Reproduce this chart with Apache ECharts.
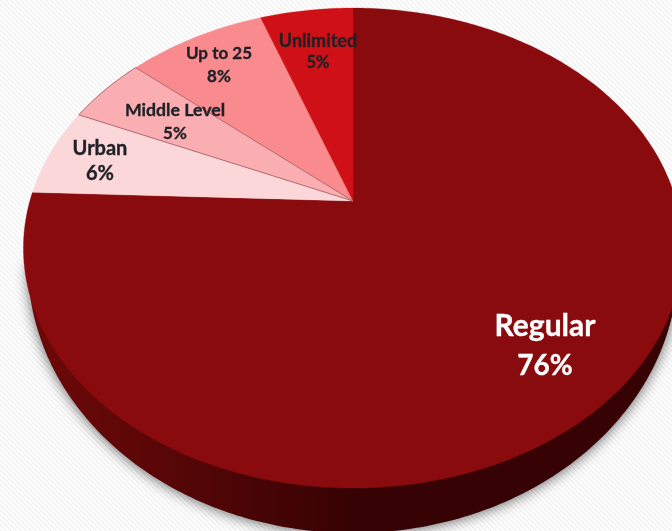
<!DOCTYPE html>
<html><head><meta charset="utf-8">
<style>html,body{margin:0;padding:0;background:#fff}#c{width:672px;height:531px}</style>
<script src="https://cdn.jsdelivr.net/npm/echarts@6/dist/echarts.min.js"></script>
</head><body><div id="c"></div>
<script>
const categories = ['Regular','Urban','Middle Level','Up to 25','Unlimited'];
const values = [75.6,6.0,4.7,8.2,5.5];
const percentLabels = ['76%','6%','5%','8%','5%'];

// layout and style, separate from the data
const sliceColors = ['#8a0b0e','#fcd7da','#fbaeb1','#f98a8e','#cf1016'];
const labelColors = ['#ffffff','#1f2126','#1f2126','#1f2126','#1f2126'];
const nameSizes = [30,20,17.7,17,18];
const percentSizes = [28,20,17,17,16.5];
const labelAnchors = [[545,346],[100,161],[175,122],[219,65],[318,52]];
const labelGaps = [39,25,23,23,22];
const apex = [353,201], A = 323.2, B = 230.8, K = 0.196;
const base = {cx:353, cy:265, rx:325, ry:268};

function project(frac){
  const t = frac*2*Math.PI, X = Math.sin(t), Y = Math.cos(t), w = 1+K*Y;
  return [apex[0]+A*X/w, apex[1]-B*Y/w];
}
function wedge(from,to){
  const pts=[apex.slice()], n=Math.max(4,Math.round((to-from)*400));
  for(let i=0;i<=n;i++) pts.push(project(from+(to-from)*i/n));
  return pts;
}
const total = values.reduce((a,b)=>a+b,0);
let run = 0;
const sliceRows = values.map((v,i)=>{const s=run/total; run+=v; return [s,run/total,i];});
// the small "Middle Level" slice carries the outline, so it goes over its neighbours
const drawOrder = [0,1,3,4,2];

const chart = echarts.init(document.getElementById('c'),null,{renderer:'canvas'});
const tile = document.createElement('canvas'); tile.width=5; tile.height=5;
const tc = tile.getContext('2d'); tc.fillStyle='#ffffff'; tc.fillRect(0,0,5,5); tc.fillStyle='#f1f1f1';
for(let y=0;y<5;y++)for(let x=0;x<5;x++){ if(((x-y)%5+5)%5<2) tc.fillRect(x,y,1,1); }

chart.setOption({
  animation:false,
  backgroundColor:{image:tile,repeat:'repeat'},
  series:[
    {type:'custom',name:'side',coordinateSystem:'none',silent:true,data:[[0]],
     renderItem(){
       const pts=[];
       for(let i=0;i<=180;i++){const t=i/180*Math.PI;pts.push([base.cx+base.rx*Math.cos(t),base.cy+base.ry*Math.sin(t)]);}
       return {type:'polygon',shape:{points:pts},style:{
         fill:new echarts.graphic.LinearGradient(0,0,1,0,[
           {offset:0,color:'#6e0808'},{offset:0.16,color:'#5e0707'},{offset:0.3,color:'#4e0506'},
           {offset:0.5,color:'#370203'},{offset:1,color:'#360203'}]),
         shadowBlur:14,shadowColor:'rgba(0,0,0,0.6)',shadowOffsetX:0,shadowOffsetY:1}};
     }},
    {type:'custom',name:'slices',coordinateSystem:'none',silent:true,
     data:drawOrder.map(i=>sliceRows[i]),
     renderItem(p,api){
       const i=api.value(2);
       const outlined=i===2;
       return {type:'polygon',shape:{points:wedge(api.value(0),api.value(1))},
         style:{fill:sliceColors[i],stroke:outlined?'#b2666c':sliceColors[i],lineWidth:outlined?1:0.3,lineJoin:'round'}};
     }},
    {type:'custom',name:'labels',coordinateSystem:'none',silent:true,
     data:categories.map((c,i)=>[i]),
     renderItem(p,api){
       const i=api.value(0),[x,y]=labelAnchors[i],g=labelGaps[i];
       const t=(s,yy,size)=>({type:'text',style:{text:s,x,y:yy,fill:labelColors[i],stroke:labelColors[i],lineWidth:0.35,font:'bold '+size+'px Lato, "Open Sans", sans-serif',align:'center',verticalAlign:'middle'}});
       return {type:'group',children:[t(categories[i],y-g/2,nameSizes[i]),t(percentLabels[i],y+g/2,percentSizes[i])]};
     }}
  ]
});
</script></body></html>
